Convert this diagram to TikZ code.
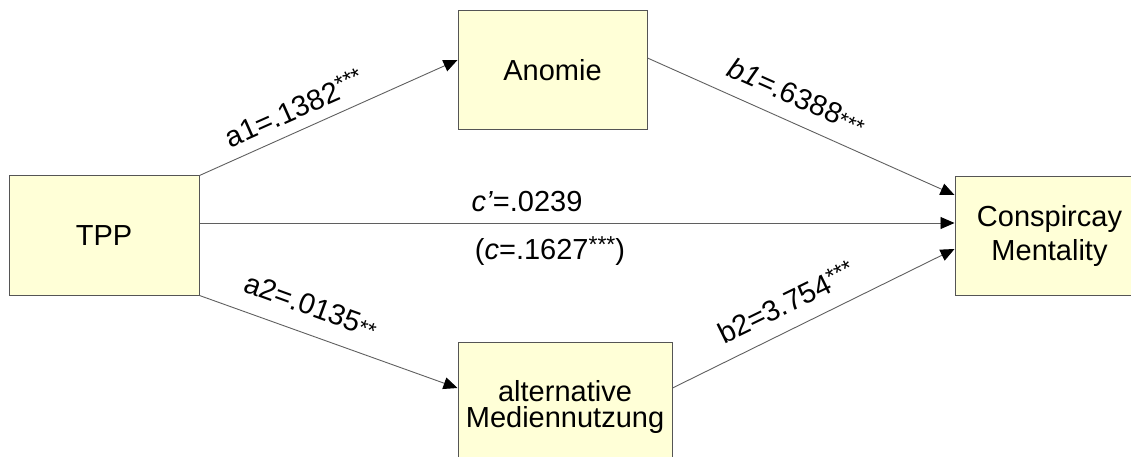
\documentclass[tikz,border=0pt]{standalone}
\usepackage{fontspec}
\setmainfont{Liberation Sans}
\usetikzlibrary{arrows.meta,calc}
\definecolor{boxfill}{RGB}{255,255,215}
\definecolor{boxline}{RGB}{85,85,85}
\definecolor{lineclr}{RGB}{95,95,95}
\newcommand{\starsup}[1]{\raisebox{7pt}{\fontsize{23}{23}\selectfont #1}}
\newcommand{\starlow}[1]{\raisebox{-1pt}{\fontsize{22}{22}\selectfont #1}}
\begin{document}
\begin{tikzpicture}[x=1pt,y=-1pt,
  box/.style={draw=boxline, fill=boxfill, line width=1pt, minimum height=119pt,
    align=center, inner sep=0pt, font=\fontsize{29}{34}\selectfont},
  conn/.style={draw=lineclr, line width=0.9pt, -{Triangle[length=14pt,width=12pt,color=black]}},
  lbl/.style={font=\fontsize{29}{32}\selectfont, inner sep=0pt}]
\useasboundingbox (0,0) rectangle (1131,457);
\node[box, minimum width=190pt] (tpp) at (104,235.5) {TPP};
\node[box, minimum width=189pt] (anom) at (552.5,70) {Anomie};
\node[box, minimum width=189pt] (cm) at (1049.5,236) {Conspircay\\Mentality};
\node[box, minimum width=214pt, minimum height=129pt, font=\fontsize{29}{26}\selectfont] (alt) at (565,406.5) {alternative\\Mediennutzung};
\draw[conn] (tpp.north east) -- ($(anom.west)+(0,-10)$);
\draw[conn] ($(anom.east)+(0,-12)$) -- ($(cm.west)+(0,-41)$);
\draw[conn] ($(tpp.east)+(0,-12.5)$) -- ($(cm.west)+(0,-13)$);
\draw[conn] (tpp.south east) -- ($(alt.west)+(0,-18.5)$);
\draw[conn] ($(alt.east)+(0,-18.5)$) -- ($(cm.west)+(0,13)$);
\node[lbl, rotate=24] (la1) at (294,108) {a1=.1382\starsup{***}};
\node[lbl, rotate=-24] (lb1) at (797,96) {\textit{b1}=.6388\starlow{***}};
\node[lbl] (lc1) at (527,202) {\textit{c'}=.0239};
\node[lbl] (lc) at (550,251) {(\textit{c}=.1627\starsup{***})};
\node[lbl, rotate=-20] (la2) at (311,306) {a2=.0135\starlow{**}};
\node[lbl, rotate=26] (lb2) at (786,302) {b2=3.754\starsup{***}};
\end{tikzpicture}
\end{document}
